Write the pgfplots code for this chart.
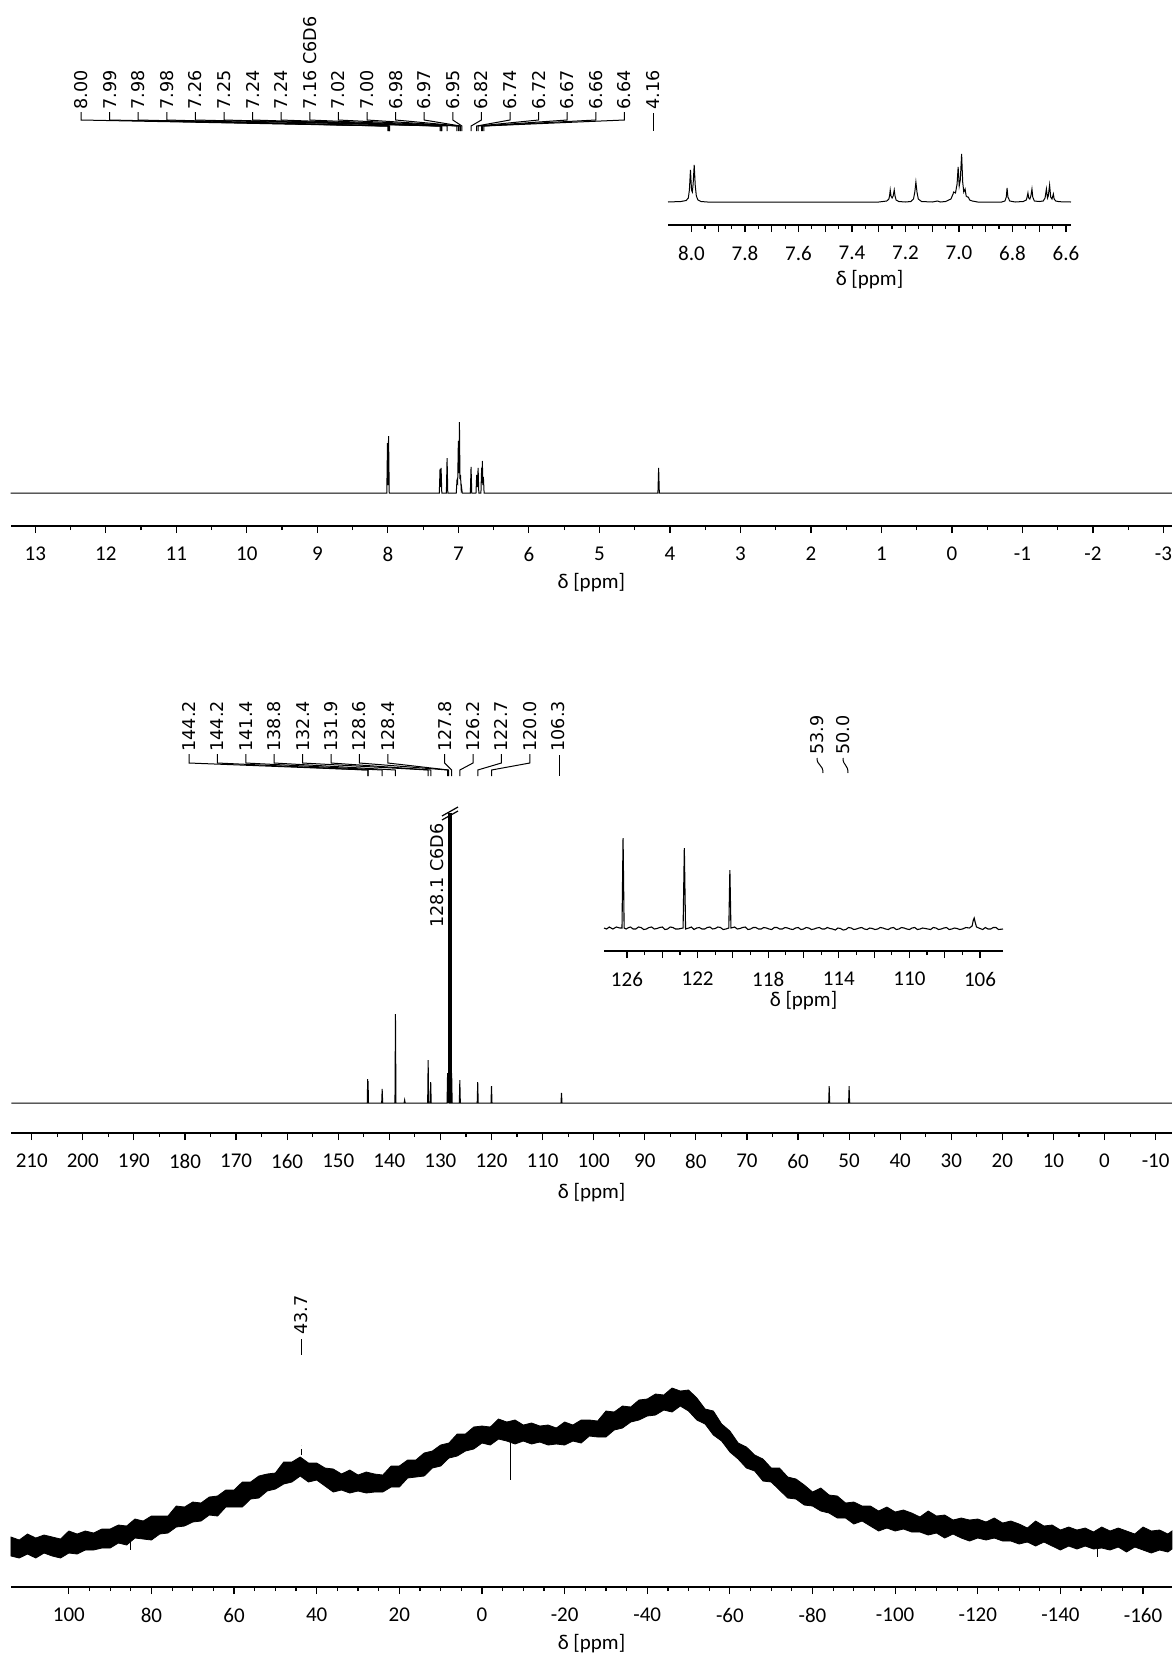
\documentclass[border=0pt]{standalone}
\usepackage{fontspec}
\setmainfont{Carlito}
\newfontfamily\peakfam{DejaVu Sans}
\usepackage{pgfplots}
\pgfplotsset{compat=1.18}
\newcommand\tickfont{\fontsize{10.5}{12}\selectfont}
\newcommand\peakfont{\peakfam\fontsize{8.8}{10}\selectfont}
\pgfplotsset{nmr/.style={
 scale only axis, x dir=reverse, axis x line*=bottom, axis y line=none, clip=false,
 tick align=outside, axis line style={line width=1.1pt},
 every tick/.append style={line width=0.6pt, black},
 major tick length=3.5pt, minor tick length=2pt,
 xticklabel style={font=\tickfont, anchor=center, yshift=-10.5pt},
 xlabel={δ [ppm]},
 xlabel style={font=\tickfont, anchor=center, at={(axis description cs:0.5,0)}},
}}
\begin{document}
\begin{tikzpicture}
\path[use as bounding box] (0,0) rectangle (587pt,-828pt);

% ---------- 1H main ----------
\begin{axis}[nmr, at={(5.3pt,-263pt)}, anchor=south west, width=580.7pt, height=52pt,
 xmin=-3.12, xmax=13.35, ymin=-33, ymax=71,
 xtick={-3,...,13}, xticklabels={-3,-2,-1,0,1,2,3,4,5,6,7,8,9,10,11,12,13}, minor x tick num=1,
 xlabel style={yshift=-28.5pt}]
\addplot[black, line width=0.5pt] coordinates {
(13.35,0)
(8.015,0)(8.005,50)(7.998,8)(7.99,57)(7.98,0)
(7.27,0)(7.26,24)(7.252,6)(7.245,25)(7.235,0)
(7.17,0)(7.16,35)(7.15,0)
(7.03,0)(7.02,12)(7.01,10)(7.00,52)(6.992,20)(6.985,71)(6.977,14)(6.97,18)(6.96,4)(6.955,6)(6.945,0)
(6.83,0)(6.82,26)(6.81,0)
(6.75,0)(6.74,18)(6.73,6)(6.72,25)(6.71,0)
(6.68,0)(6.67,25)(6.665,10)(6.66,32)(6.652,8)(6.645,16)(6.635,0)
(4.17,0)(4.16,25)(4.15,0)
(-3.12,0)};
\end{axis}

% ---------- 1H inset ----------
\begin{axis}[nmr, at={(334pt,-112.5pt)}, anchor=south west, width=201.5pt, height=35pt,
 xmin=6.581, xmax=8.088, ymin=-23, ymax=47,
 xtick={6.6,6.7,6.8,6.9,7.0,7.1,7.2,7.3,7.4,7.5,7.6,7.7,7.8,7.9,8.0},
 xticklabels={6.6,,6.8,,7.0,,7.2,,7.4,,7.6,,7.8,,8.0}, minor x tick num=1,
 xlabel style={yshift=-27.5pt}]
\addplot[black, line width=0.5pt] coordinates {
(8.088,0)(8.04,0.5)(8.02,1.5)(8.012,4)(8.008,12)(8.004,32)(8.0,12)(7.997,10)(7.994,18)(7.99,37)(7.986,16)(7.982,6)(7.976,2)(7.965,0.5)(7.94,0)
(7.30,0)(7.27,1)(7.262,3)(7.259,7)(7.257,12)(7.254,6)(7.25,4)(7.246,6)(7.242,12)(7.239,6)(7.235,2)(7.225,0.5)(7.20,0)
(7.18,0.5)(7.170,3)(7.165,10)(7.161,20)(7.157,10)(7.152,3)(7.14,0.5)(7.10,0)(7.08,1)(7.07,0)
(7.05,0.5)(7.03,3)(7.022,8)(7.02,10)(7.013,9)(7.007,18)(7.003,35)(6.999,16)(6.995,22)(6.99,48)(6.986,20)(6.982,10)(6.977,13)(6.973,6)(6.968,5)(6.965,5)(6.96,2)(6.95,1)(6.93,0)
(6.84,0)(6.828,1)(6.823,5)(6.82,14)(6.817,5)(6.81,1)(6.79,0)
(6.76,0.5)(6.748,2)(6.745,5)(6.742,9)(6.739,4)(6.735,3)(6.731,6)(6.727,13)(6.724,5)(6.718,1)(6.70,0.5)
(6.685,1)(6.678,4)(6.673,13)(6.669,4)(6.666,6)(6.661,17)(6.657,5)(6.652,3)(6.647,8)(6.644,3)(6.638,1)(6.625,0.3)(6.581,0)};
\end{axis}

% ---------- 13C main ----------
\begin{axis}[nmr, at={(5.65pt,-566.5pt)}, anchor=south west, width=580.35pt, height=160pt,
 xmin=-13.2, xmax=214, ymin=-30, ymax=290,
 xtick={-10,0,...,210}, xticklabels={-10,0,10,20,30,40,50,60,70,80,90,100,110,120,130,140,150,160,170,180,190,200,210},
 minor x tick num=1, xlabel style={yshift=-30pt}]
\addplot[black, line width=0.5pt] coordinates {
(214,0)
(144.32,0)(144.24,24)(144.2,2)(144.16,22)(144.08,0)
(141.5,0)(141.4,14)(141.3,0)
(138.9,0)(138.8,89)(138.7,0)
(137.1,0)(137.0,3)(136.9,0)
(132.5,0)(132.4,43)(132.3,0)
(132.0,0)(131.9,21)(131.8,0)
(128.7,0)(128.6,30)(128.5,0)(128.4,35)(128.3,0)
(127.9,0)(127.8,30)(127.7,0)
(126.3,0)(126.2,23)(126.1,0)
(122.8,0)(122.7,21)(122.6,0)
(120.1,0)(120.0,17)(119.9,0)
(106.4,0)(106.3,10)(106.2,0)
(54.0,0)(53.9,17)(53.8,0)
(50.1,0)(50.0,17)(49.9,0)
(-13.2,0)};
\addplot[black, line width=2.2pt] coordinates {(128.1,0)(128.1,290)};
\end{axis}

% ---------- 13C inset ----------
\begin{axis}[nmr, at={(302pt,-475.5pt)}, anchor=south west, width=199.5pt, height=56.5pt,
 xmin=104.7, xmax=127.3, ymin=-23, ymax=90,
 xtick={106,108,110,112,114,116,118,120,122,124,126},
 xticklabels={106,,110,,114,,118,,122,,126}, minor x tick num=1,
 xlabel style={yshift=-25pt}]
\addplot[black, line width=0.55pt] coordinates {
(127.3,0)(127.15,-1)(127.0,1)(126.8,-1)(126.6,1)(126.4,0)(126.28,0)(126.22,90)(126.16,0)(126.05,-1)(125.9,0.5)(125.8,1)(125.65,-1)(125.5,-1)(125.35,1)(125.2,0.5)(125.05,-1.5)(124.9,-1)(124.75,0.5)(124.6,1)(124.45,-1)(124.3,-0.5)(124.15,0.5)(124.0,1)(123.85,-1.5)(123.7,-1)(123.55,1)(123.4,0.5)(123.25,-1)(123.1,-1)
(122.82,0)(122.75,80)(122.68,-1)(122.5,0)(122.35,1)(122.2,-1.5)(122.05,0)(121.9,0.5)(121.75,-1)(121.6,-1)(121.45,0.5)(121.3,1)(121.15,-1)(121.0,-0.5)(120.85,1)(120.7,0.5)(120.55,-1.5)(120.4,-1)
(120.23,0)(120.17,58)(120.11,0)(119.9,1)(119.75,-1)(119.6,-0.5)(119.45,0.5)(119.3,1)(119.15,-1.5)(119.0,-1)(118.85,0.5)(118.7,0.5)(118.55,-1)(118.4,-1)(118.25,0.5)(118.1,0)(117.95,-1)(117.8,-1.5)(117.65,0.5)(117.5,0.5)(117.35,-1)(117.2,-1)(117.05,0.5)(116.9,0)(116.75,-1)(116.6,-1.5)(116.45,0)(116.3,0.5)(116.15,-1.5)(116.0,-1)(115.85,0.5)(115.7,0)(115.55,-1.5)(115.4,-1)(115.25,0)(115.1,0.5)(114.95,-1)(114.8,-1)(114.65,0.5)(114.5,-0.5)(114.35,-1)(114.2,-2)(114.05,0)(113.9,-0.5)(113.75,-2)(113.6,-1.5)(113.45,0.5)(113.3,0)(113.15,-1.5)(113.0,-1)(112.85,0)(112.7,0.5)(112.55,-1)(112.4,-1.5)(112.25,0)(112.1,-0.5)(111.95,-1.5)(111.8,-1)(111.65,0.5)(111.5,0)(111.35,-1)(111.2,-1.5)(111.05,0)(110.9,0.5)(110.75,-1.5)(110.6,-1)(110.45,0.5)(110.3,0)(110.15,-1)(110.0,-1.5)(109.85,0)(109.7,0.5)(109.55,-1.5)(109.4,-1)(109.25,0)(109.1,-0.5)(108.95,-1)(108.8,-1.5)(108.65,0.5)(108.5,0)(108.35,-1.5)(108.2,-1)(108.05,0)(107.9,0.5)(107.75,-1.5)(107.6,-1)(107.45,0)(107.3,-0.5)(107.15,-1.5)(107.0,-1)(106.8,0.5)(106.6,0)
(106.45,2)(106.38,8)(106.33,10)(106.28,6)(106.2,1)(106.0,-0.5)(105.85,-1.5)(105.7,0.5)(105.55,-1)(105.4,-1)(105.25,0.5)(105.1,0.5)(104.95,-1.5)(104.7,-1)};
\end{axis}

% ---------- 11B ----------
\begin{axis}[nmr, at={(5.5pt,-793.5pt)}, anchor=south west, width=580.5pt, height=100pt,
 xmin=-167, xmax=114, ymin=0, ymax=200,
 xtick={-160,-140,...,100}, xticklabels={-160,-140,-120,-100,-80,-60,-40,-20,0,20,40,60,80,100},
 minor x tick num=3, xlabel style={yshift=-28.5pt}]
\addplot[black, fill=black, line width=0.4pt] coordinates {
(114,50)(112,47)(110,53)(108,49)(106,52)(104,50)(102,48)(100,56)(98,53)(96,56)(94,54)(92,58)(90,58)(88,62)(86,61)(84,68)(82,66)(80,71)(78,71)(76,71)(74,81)(72,80)(70,85)(68,84)(66,90)(64,91)(62,97)(60,97)(58,105)(56,105)(54,111)(52,113)(50,114)(48,125)(46,125)(44,130)(42,124)(40,124)(38,119)(36,118)(34,113)(32,117)(30,112)(28,115)(26,113)(24,112)(22,121)(20,121)(18,127)(16,127)(14,134)(12,136)(10,142)(8,144)(6,153)(4,153)(2,160)(0,161)(-2,160)(-4,168)(-6,165)(-8,167)(-10,162)(-12,164)(-14,161)(-16,162)(-18,159)(-20,165)(-22,162)(-24,167)(-26,167)(-28,166)(-30,176)(-32,175)(-34,181)(-36,180)(-38,187)(-40,188)(-42,193)(-44,192)(-46,199)(-48,196)(-50,197)(-52,189)(-54,178)(-56,176)(-58,163)(-60,156)(-62,144)(-64,140)(-66,132)(-68,128)(-70,119)(-72,119)(-74,110)(-76,108)(-78,102)(-80,95)(-82,99)(-84,92)(-86,91)(-88,84)(-90,85)(-92,81)(-94,81)(-96,76)(-98,80)(-100,75)(-102,77)(-104,74)(-106,70)(-108,76)(-110,71)(-112,72)(-114,67)(-116,69)(-118,67)(-120,68)(-122,65)(-124,69)(-126,64)(-128,66)(-130,63)(-132,59)(-134,66)(-136,61)(-138,62)(-140,57)(-142,60)(-144,57)(-146,59)(-148,55)(-150,60)(-152,56)(-154,59)(-156,56)(-158,53)(-160,60)(-162,56)(-164,57)(-166,53)(-167,56)
(-167,38)(-166,35)(-164,37)(-162,34)(-160,37)(-158,40)(-156,35)(-154,40)(-152,37)(-150,39)(-148,38)(-146,41)(-144,38)(-142,41)(-140,37)(-138,41)(-136,45)(-134,41)(-132,45)(-130,43)(-128,46)(-126,46)(-124,49)(-122,47)(-120,49)(-118,46)(-116,49)(-114,53)(-112,49)(-110,54)(-108,52)(-106,55)(-104,55)(-102,58)(-100,56)(-98,59)(-96,56)(-94,61)(-92,66)(-90,63)(-88,69)(-86,69)(-84,74)(-82,76)(-80,81)(-78,82)(-76,88)(-74,89)(-72,97)(-70,105)(-68,106)(-66,116)(-64,119)(-62,128)(-60,135)(-58,146)(-56,152)(-54,163)(-52,167)(-50,176)(-48,181)(-46,175)(-44,177)(-42,172)(-40,171)(-38,167)(-36,165)(-34,159)(-32,157)(-30,150)(-28,150)(-26,151)(-24,144)(-22,146)(-20,142)(-18,143)(-16,142)(-14,145)(-12,143)(-10,146)(-8,143)(-6,146)(-4,148)(-2,142)(0,144)(2,138)(4,136)(6,131)(8,129)(10,121)(12,119)(14,111)(16,110)(18,109)(20,100)(22,100)(24,95)(26,95)(28,94)(30,96)(32,94)(34,97)(36,95)(38,101)(40,107)(42,105)(44,111)(46,105)(48,103)(50,98)(52,96)(54,89)(56,88)(58,80)(60,80)(62,80)(64,71)(66,72)(68,66)(70,65)(72,61)(74,60)(76,54)(78,53)(80,47)(82,48)(84,49)(86,42)(88,44)(90,39)(92,39)(94,37)(96,37)(98,33)(100,34)(102,29)(104,31)(106,34)(108,29)(110,33)(112,29)(114,31)} -- cycle;
\addplot[black, line width=0.5pt] coordinates {(-7,165)(-7,107)};
\addplot[black, line width=0.4pt] coordinates {(85,48)(85,37)};
\addplot[black, line width=0.4pt] coordinates {(-149,42)(-149,30)};
\addplot[black, line width=0.4pt, densely dashed] coordinates {(43.7,132)(43.7,142)};
\end{axis}

% ---------- peak annotations (pixel frame) ----------
\begin{scope}[x=0.5pt,y=-0.5pt, line width=0.5pt]
\foreach \lab/\ppm [count=\i from 0] in {8.00/8.00,7.99/7.99,7.98/7.98,7.98/7.975,7.26/7.26,7.25/7.25,7.24/7.24,7.24/7.235,7.16 C6D6/7.16,7.02/7.02,7.00/7.00,6.98/6.98,6.97/6.97,6.95/6.95,6.82/6.82,6.74/6.74,6.72/6.72,6.67/6.67,6.66/6.66,6.64/6.64}{
 \pgfmathsetmacro\lx{81+28.6*\i}
 \pgfmathsetmacro\px{10.6+(13.35-\ppm)*70.52}
 \node[rotate=90, anchor=west, inner sep=0pt, font=\peakfont] at (\lx,110) {\lab};
 \draw (\lx,112)--(\lx,120)--(\px,126)--(\px,131);
}
\node[rotate=90, anchor=west, inner sep=0pt, font=\peakfont] at (653,110) {4.16};
\draw (653,113)--(653,131);

\foreach \i/\lab/\ppm in {0/144.2/144.22,1/144.2/144.18,2/141.4/141.4,3/138.8/138.8,4/132.4/132.4,5/131.9/131.9,6/128.6/128.6,7/128.4/128.4,9/127.8/127.8,10/126.2/126.2,11/122.7/122.7,12/120.0/120.0}{
 \pgfmathsetmacro\lx{189+28.4*\i}
 \pgfmathsetmacro\px{11.3+(214-\ppm)*5.109}
 \node[rotate=90, anchor=west, inner sep=0pt, font=\peakfont] at (\lx,752) {\lab};
 \draw (\lx,754)--(\lx,763)--(\px,770)--(\px,776);
}
\node[rotate=90, anchor=west, inner sep=0pt, font=\peakfont] at (558,752) {106.3};
\draw (559,755)--(559,776);
\node[rotate=90, anchor=west, inner sep=0pt, font=\peakfont] at (817,755) {53.9};
\draw (817,758) .. controls (817,766) and (823,764) .. (823,773);
\node[rotate=90, anchor=west, inner sep=0pt, font=\peakfont] at (843,755) {50.0};
\draw (843,758) .. controls (843,766) and (848,764) .. (848,773);

\node[rotate=90, anchor=west, inner sep=0pt, font=\peakfont] at (437,928) {128.1 C6D6};
\draw[line width=0.6pt] (442,820)--(458,811);
\draw[line width=0.6pt] (442,816)--(458,807);

\node[rotate=90, anchor=west, inner sep=0pt, font=\peakfont] at (301,1335) {43.7};
\draw (301,1339)--(301,1355);
\end{scope}
\end{tikzpicture}
\end{document}
